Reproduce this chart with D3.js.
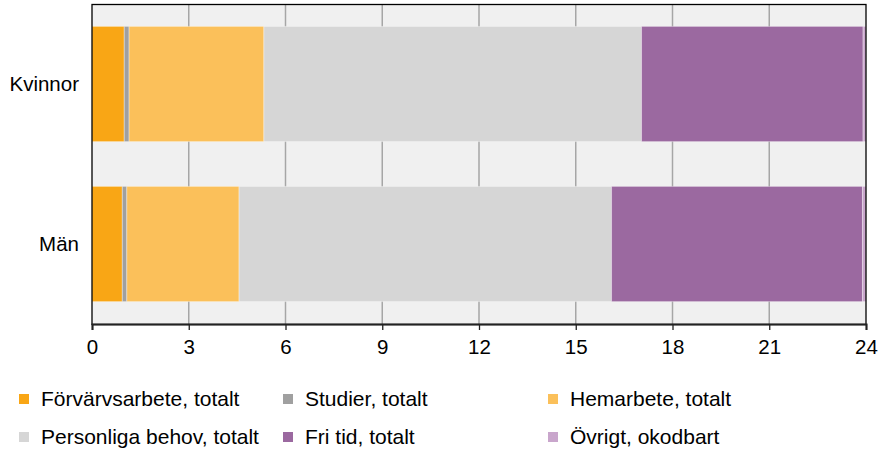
<!DOCTYPE html>
<html><head><meta charset="utf-8">
<script src="https://cdn.jsdelivr.net/npm/d3@7"></script>
<style>body{margin:0;background:#fff}svg{display:block;font-family:"Liberation Sans",Arial,sans-serif}</style>
</head><body><svg id="c" width="879" height="450"></svg>
<script>
const categories = ["Kvinnor", "Män"];
const seriesNames = ["Förvärvsarbete, totalt", "Studier, totalt", "Hemarbete, totalt", "Personliga behov, totalt", "Fri tid, totalt", "Övrigt, okodbart"];
const seriesColors = ["#f9a615", "#a0a0a0", "#fbc05a", "#d6d6d6", "#9b69a0", "#c9a6cc"];
const kvinnorValues = [1.00, 0.15, 4.18, 11.71, 6.87, 0.09];
const manValues = [0.94, 0.14, 3.48, 11.55, 7.78, 0.11];
const xTicks = [0, 3, 6, 9, 12, 15, 18, 21, 24];

const svg = d3.select("#c");
const L = 92, R = 866, T = 4, B = 324;
const x = d3.scaleLinear().domain([0, 24]).range([L, R]);
const y = d3.scaleBand().domain(categories).range([T, B]).paddingInner(0.28).paddingOuter(0.14);

svg.append("rect").attr("x", L).attr("y", T).attr("width", R - L).attr("height", B - T).attr("fill", "#f0f0f0");
svg.append("g").selectAll("line").data(xTicks.slice(1, -1)).join("line")
  .attr("x1", d => x(d)).attr("x2", d => x(d)).attr("y1", T).attr("y2", B)
  .attr("stroke", "#a6a6a6").attr("stroke-width", 1.5);

const rows = [kvinnorValues, manValues];
const data = categories.map((c, i) => {
  const o = {cat: c};
  seriesNames.forEach((s, j) => o[s] = rows[i][j]);
  return o;
});
const stacked = d3.stack().keys(seriesNames)(data);
svg.append("g").selectAll("g").data(stacked).join("g")
  .attr("fill", (d, i) => seriesColors[i])
  .selectAll("rect").data(d => d).join("rect")
  .attr("x", d => x(d[0])).attr("width", d => x(d[1]) - x(d[0]))
  .attr("y", d => y(d.data.cat)).attr("height", y.bandwidth())
  .attr("stroke", "rgba(255,255,255,0.35)").attr("stroke-width", 1);

// frame
svg.append("rect").attr("x", L).attr("y", T + 0.5).attr("width", R - L).attr("height", B - T)
  .attr("fill", "none").attr("stroke", "#000").attr("stroke-width", 1.3);

const xa = svg.append("g").attr("transform", `translate(0,${B})`)
  .call(d3.axisBottom(x).tickValues(xTicks).tickSize(6).tickPadding(9).tickFormat(d3.format("d")));
xa.select(".domain").attr("stroke", "#222").attr("stroke-width", 2);
xa.selectAll(".tick line").attr("stroke", "#222").attr("stroke-width", 1.3);
xa.selectAll("text").attr("font-size", "20.5px").attr("fill", "#000").style("font-family", "'Liberation Sans',Arial,sans-serif");

const ya = svg.append("g").attr("transform", `translate(${L},0)`)
  .call(d3.axisLeft(y).tickSize(0).tickPadding(13));
ya.select(".domain").remove();
ya.selectAll("text").attr("font-size", "20.5px").attr("fill", "#000").style("font-family", "'Liberation Sans',Arial,sans-serif");

const legX = [19, 283, 548];
const legY = [394, 432];
const lg = svg.append("g").selectAll("g").data(seriesNames).join("g")
  .attr("transform", (d, i) => `translate(${legX[i % 3]},${legY[Math.floor(i / 3)]})`);
lg.append("rect").attr("width", 10).attr("height", 10).attr("fill", (d, i) => seriesColors[i]);
lg.append("text").attr("x", 22).attr("y", 12).attr("font-size", "21px").attr("fill", "#000")
  .text(d => d);
</script></body></html>
